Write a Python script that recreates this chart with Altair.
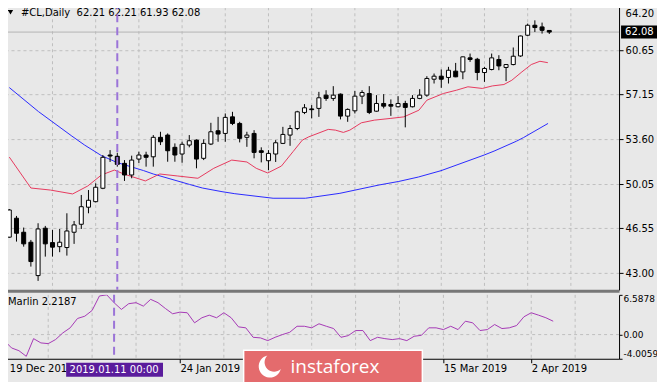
import altair as alt
import pandas as pd

F = "DejaVu Sans"

# ---------------- data ----------------
bar_idx = list(range(76))
opens = [45.85, 47.35, 46.24, 45.45, 42.81, 46.56, 45.42, 45.10, 45.03, 46.24,
         46.87, 48.22, 48.66, 49.72, 52.35, 52.25, 51.69, 50.77, 52.03, 52.35,
         52.21, 53.75, 53.93, 52.96, 52.43, 53.14, 53.53, 52.09, 53.22, 54.27,
         54.06, 55.37, 54.85, 53.75, 54.06, 52.69, 51.90, 52.43, 53.27, 53.93,
         54.45, 55.72, 56.00, 56.04, 57.09, 56.83, 57.17, 55.43, 55.85, 57.01,
         57.22, 55.82, 56.43, 56.35, 56.17, 56.43, 56.17, 56.83, 57.09, 58.35,
         58.59, 58.49, 58.99, 58.93, 60.04, 59.93, 58.88, 59.12, 59.91, 59.28,
         59.51, 60.19, 61.83, 62.62, 62.49, 62.21]
highs = [48.08, 47.53, 46.61, 45.63, 46.95, 46.74, 46.42, 46.50, 47.74, 47.13,
         49.19, 49.58, 50.11, 52.35, 52.74, 52.53, 51.95, 52.30, 52.61, 52.61,
         53.93, 54.19, 54.06, 53.27, 53.40, 53.93, 53.59, 53.59, 54.90, 55.37,
         55.64, 55.77, 54.98, 54.19, 54.32, 52.96, 52.74, 53.53, 54.58, 54.72,
         55.85, 56.38, 56.30, 57.35, 57.48, 57.80, 57.22, 56.04, 57.43, 57.48,
         57.80, 57.09, 57.17, 56.75, 57.01, 56.64, 57.09, 57.56, 58.59, 58.80,
         59.12, 59.33, 59.64, 60.15, 60.38, 60.04, 59.33, 60.38, 60.25, 59.55,
         60.86, 61.80, 62.75, 63.01, 62.83, 62.21]
lows = [45.79, 45.50, 45.10, 43.52, 42.39, 44.31, 44.31, 44.66, 44.39, 45.32,
        46.50, 47.74, 48.60, 49.65, 51.80, 51.43, 50.30, 50.51, 51.72, 51.43,
        51.43, 53.14, 51.82, 51.82, 51.74, 52.96, 51.30, 51.95, 53.14, 53.40,
        53.40, 54.72, 53.35, 53.00, 52.09, 51.77, 51.16, 51.80, 53.22, 53.08,
        54.32, 55.59, 55.25, 55.37, 56.64, 56.64, 55.17, 54.98, 55.64, 56.38,
        55.59, 55.78, 56.04, 55.45, 56.12, 54.54, 56.12, 56.77, 56.96, 58.01,
        57.67, 58.01, 58.51, 58.35, 59.72, 58.27, 58.14, 59.05, 59.06, 58.20,
        59.45, 60.12, 61.75, 62.09, 61.96, 61.93]
closes = [48.00, 46.16, 45.32, 43.92, 46.50, 45.32, 45.06, 45.45, 46.34, 46.82,
          48.26, 48.77, 49.80, 52.17, 52.27, 51.61, 50.77, 51.95, 52.35, 52.17,
          53.75, 53.40, 52.69, 52.35, 53.20, 53.48, 52.03, 53.27, 54.19, 54.01,
          55.33, 54.85, 53.67, 53.93, 52.56, 52.56, 52.48, 53.32, 53.98, 54.45,
          55.77, 56.09, 55.94, 56.88, 56.83, 57.09, 55.43, 55.96, 57.01, 57.30,
          55.72, 56.43, 56.22, 56.22, 56.43, 56.12, 56.83, 57.09, 58.41, 58.59,
          58.35, 59.06, 58.54, 60.12, 59.91, 58.88, 59.20, 60.04, 59.40, 59.51,
          60.17, 61.77, 62.62, 62.44, 62.22, 62.08]

red_idx = [0, 3, 5.7, 8.8, 10.9, 12.8, 14.6, 15.9, 18.9, 20.9, 23.4, 26.2, 28.4,
           30.9, 33.0, 34.3, 35.9, 37.8, 39.4, 40.7, 41.6, 44.3, 45.3, 46.4, 47.3,
           48.9, 50.7, 53.0, 54.8, 56.9, 58.0, 60.3, 62.1, 63.7, 65.7, 67.1, 68.7,
           69.8, 71.2, 72.5, 73.7, 74.8]
red_val = [52.19, 49.74, 49.58, 49.27, 49.90, 50.77, 51.16, 50.85, 50.30, 50.85,
           50.69, 50.51, 51.30, 51.95, 51.80, 51.30, 50.93, 51.48, 52.61, 53.53,
           53.79, 54.38, 54.32, 54.14, 54.32, 54.90, 55.11, 55.25, 55.37, 55.90,
           56.69, 57.22, 57.48, 57.75, 57.62, 57.82, 57.93, 58.27, 58.93, 59.51,
           59.77, 59.66]

blue_idx = [0, 4.05, 8.69, 10.46, 12.78, 14.96, 18.64, 20.0, 25.05, 26.82, 29.55,
            31.32, 36.64, 41.14, 45.92, 51.37, 54.1, 56.82, 59.96, 65.96, 67.33,
            70.46, 71.42, 74.83]
blue_val = [57.69, 55.79, 53.85, 53.14, 52.31, 51.76, 51.12, 50.85, 50.02, 49.74,
            49.45, 49.29, 48.93, 48.93, 49.32, 49.98, 50.26, 50.61, 51.11, 52.35,
            52.66, 53.45, 53.73, 54.85]

marlin = [-1.00, -2.22, -2.67, -3.60, -0.67, -1.38, -1.50, -0.83, 0.28, 1.12,
          2.67, 3.05, 4.00, 6.40, 6.5878, 5.29, 4.17, 5.12, 5.29, 4.72,
          5.84, 5.29, 4.34, 3.45, 3.72, 3.62, 1.95, 2.79, 3.22, 2.79,
          3.62, 2.79, 1.28, 1.12, -0.45, -0.55, -1.00, -0.45, 0.00, 0.38,
          1.38, 1.38, 1.12, 1.79, 1.38, 1.00, -0.45, -0.17, 0.67, 0.67,
          -1.00, -0.45, -0.67, -0.83, -0.67, -1.00, -0.28, -0.12, 1.12, 1.12,
          0.83, 1.38, 0.83, 2.22, 1.95, 0.67, 0.83, 1.67, 1.00, 1.12,
          1.50, 2.95, 3.62, 3.22, 2.79, 2.2187]

price_ticks = [43.00, 46.55, 50.05, 53.60, 57.15, 60.65, 64.20]
ind_ticks = [6.5878, 0.0, -4.0059]
grid_idx = [6, 12, 18, 24, 30, 36, 42, 48, 54, 60, 66, 72, 78]
date_tick_idx = [0, 24, 60, 72]
date_tick_lbl = ["19 Dec 2018", "24 Jan 2019", "15 Mar 2019", "2 Apr 2019"]
last_price = 62.08
cross_idx = 15
cross_lbl = "2019.01.11 00:00"
header = "#CL,Daily\u00a0\u00a062.21\u00a062.21\u00a061.93\u00a062.08"
ind_name = "Marlin 2.2187"
brand = "instaforex"

# ---------------- layout ----------------
W = 616
H_MAIN = 289
H_IND = 64

X = alt.Scale(domain=[-0.04, 84.0], nice=False, zero=False)
YP = alt.Scale(domain=[41.68, 64.516], nice=False, zero=False)
YI = alt.Scale(domain=[-4.0059, 6.5878], nice=False, zero=False)

cdf = pd.DataFrame({"i": bar_idx, "open": opens, "high": highs, "low": lows, "close": closes})
rdf = pd.DataFrame({"i": red_idx, "v": red_val})
bdf = pd.DataFrame({"i": blue_idx, "v": blue_val})
mdf = pd.DataFrame({"i": bar_idx, "v": marlin})
gdf = pd.DataFrame({"i": grid_idx})
lpdf = pd.DataFrame({"p": [last_price], "t": [f"{last_price:.2f}"]})
crdf = pd.DataFrame({"i": [cross_idx], "t": [cross_lbl]})
zdf = pd.DataFrame({"v": [0.0]})

GRID = "#bfbfbf"
CROSS = "#9b74d8"

label_expr = " : ".join(
    f"datum.value == {v} ? '{l}'" for v, l in zip(date_tick_idx[:-1], date_tick_lbl[:-1])
) + f" : '{date_tick_lbl[-1]}'"

main_y_axis = alt.Axis(orient="right", values=price_ticks, format=".2f", grid=True,
                       gridColor=GRID, gridDash=[3, 3], tickSize=4, tickColor="black",
                       domainColor="black", labelFont=F, labelFontSize=10,
                       labelColor="black", labelPadding=2, title=None,
                       labelOffset={"condition": {"test": "datum.value > 64", "value": 8},
                                    "value": 0},
                       labelFlush=False, labelOverlap=False)
main_x_axis = alt.Axis(orient="bottom", labels=False, ticks=False, grid=False,
                       domainColor="#777777", domainWidth=3, offset=1, title=None)
ind_y_axis = alt.Axis(orient="right", values=ind_ticks,
                      labelExpr=("datum.value == 0 ? '0.00' : (datum.value < 0 ? '-' + "
                                 "format(-datum.value, '.4f') : format(datum.value, '.4f'))"),
                      grid=False, tickSize=3, tickColor="black", domainColor="black",
                      labelFont=F, labelFontSize=9, labelColor="black", labelPadding=1,
                      title=None, labelFlush=True, labelOverlap=False)
ind_x_axis = alt.Axis(orient="bottom", values=date_tick_idx, labelExpr=label_expr,
                      labelAlign="left", tickSize=4, tickColor="black",
                      domainColor="black", labelFont=F, labelFontSize=10,
                      labelColor="black", labelPadding=1, grid=False, title=None,
                      labelOffset={"condition": {"test": "datum.value < 1", "value": 5},
                                   "value": 0},
                      labelFlush=False, labelOverlap=False)

xm = alt.X("i:Q", scale=X, axis=main_x_axis)
xi = alt.X("i:Q", scale=X, axis=ind_x_axis)


def yp(field):
    return alt.Y(field, scale=YP, axis=main_y_axis)


def yi(field):
    return alt.Y(field, scale=YI, axis=ind_y_axis)


# ---------------- main panel ----------------
vgrid = alt.Chart(gdf).mark_rule(color=GRID, strokeDash=[3, 3]).encode(x=xm)
price_line = alt.Chart(lpdf).mark_rule(color="#b5b5b5").encode(y=yp("p:Q"))
blue = alt.Chart(bdf).mark_line(color="#2a2aff", strokeWidth=1, clip=True).encode(
    x=xm, y=yp("v:Q"))
red = alt.Chart(rdf).mark_line(color="#e63a5e", strokeWidth=1, clip=True).encode(
    x=xm, y=yp("v:Q"))
wicks = alt.Chart(cdf).mark_rule(color="black", strokeWidth=1, clip=True).encode(
    x=xm, y=yp("low:Q"), y2="high:Q")
bodies = alt.Chart(cdf).mark_bar(size=4, stroke="black", strokeWidth=1, clip=True).encode(
    x=xm, y=yp("open:Q"), y2="close:Q",
    fill=alt.condition("datum.close >= datum.open", alt.value("white"), alt.value("black")))
left_border = alt.Chart(gdf).mark_rule(color="black").encode(
    x=alt.value(0.5), y=alt.value(0), y2=alt.value(H_MAIN))
head_tri = alt.Chart(lpdf).mark_point(shape="triangle-down", filled=True, color="black",
                                      size=28, opacity=1).encode(
    x=alt.value(6.5), y=alt.value(11))
head_txt = alt.Chart(pd.DataFrame({"t": [header]})).mark_text(
    align="left", baseline="middle", font=F, fontSize=10, color="black").encode(
    x=alt.value(17), y=alt.value(12), text="t:N")
cross_main = alt.Chart(crdf).mark_rule(color=CROSS, strokeDash=[8, 5], strokeWidth=2).encode(x=xm)
pbox = alt.Chart(lpdf).mark_rect(color="black", yOffset=-6.5, y2Offset=6.5).encode(
    x=alt.value(618), x2=alt.value(654), y=yp("p:Q"), y2="p:Q")
ptxt = alt.Chart(lpdf).mark_text(align="left", baseline="middle", font=F, fontSize=10,
                                 color="white").encode(
    x=alt.value(622), y=yp("p:Q"), text="t:N")

main = alt.layer(vgrid, price_line, blue, red, wicks, bodies, left_border,
                 head_tri, head_txt, cross_main, pbox, ptxt).properties(
    width=W, height=H_MAIN)

# ---------------- indicator panel ----------------
vgrid2 = alt.Chart(gdf).mark_rule(color=GRID, strokeDash=[3, 3]).encode(x=xi)
zero_line = alt.Chart(zdf).mark_rule(color=GRID, strokeDash=[3, 3]).encode(y=yi("v:Q"))
mline = alt.Chart(mdf).mark_line(color="#a63ab6", strokeWidth=1, clip=True).encode(
    x=xi, y=yi("v:Q"))
left_border2 = alt.Chart(gdf).mark_rule(color="black").encode(
    x=alt.value(0.5), y=alt.value(0), y2=alt.value(H_IND))
cross_ind = alt.Chart(crdf).mark_rule(color=CROSS, strokeDash=[8, 5], strokeWidth=2).encode(x=xi)
ind_txt = alt.Chart(pd.DataFrame({"t": [ind_name]})).mark_text(
    align="left", baseline="middle", font=F, fontSize=10, color="black").encode(
    x=alt.value(4), y=alt.value(7.5), text="t:N")
dbox = alt.Chart(crdf).mark_rect(color="#5a1c9c", xOffset=-48, x2Offset=49).encode(
    x=xi, x2="i:Q", y=alt.value(68), y2=alt.value(82))
dtxt = alt.Chart(crdf).mark_text(align="center", baseline="middle", font=F, fontSize=10,
                                 color="white").encode(
    x=xi, y=alt.value(75.5), text="t:N")
banner = alt.Chart(crdf).mark_rect(color="#e46b6d", stroke="white", strokeWidth=1.5).encode(
    x=alt.value(240), x2=alt.value(419), y=alt.value(55.5), y2=alt.value(90))
logo = alt.Chart(crdf).mark_point(
    shape="M -0.2,-1 A 1,1 0 1,0 1,0.2 A 0.72,0.72 0 1,1 -0.2,-1 Z",
    filled=True, color="white", opacity=1, size=500).encode(
    x=alt.value(266), y=alt.value(72))
btxt = alt.Chart(pd.DataFrame({"t": [brand]})).mark_text(
    align="left", baseline="middle", font="Open Sans", fontSize=19, color="white").encode(
    x=alt.value(287), y=alt.value(72), text="t:N")

ind = alt.layer(vgrid2, zero_line, mline, left_border2, cross_ind, ind_txt,
                dbox, dtxt, banner, logo, btxt).properties(width=W, height=H_IND)

chart = alt.vconcat(main, ind, spacing=5, bounds="flush").properties(
    padding={"left": -5, "top": -8, "right": -1, "bottom": 0},
    background="#e8e8e8",
).configure_view(strokeWidth=0)

chart.save("out.html", embed_options={"renderer": "svg", "actions": False})
